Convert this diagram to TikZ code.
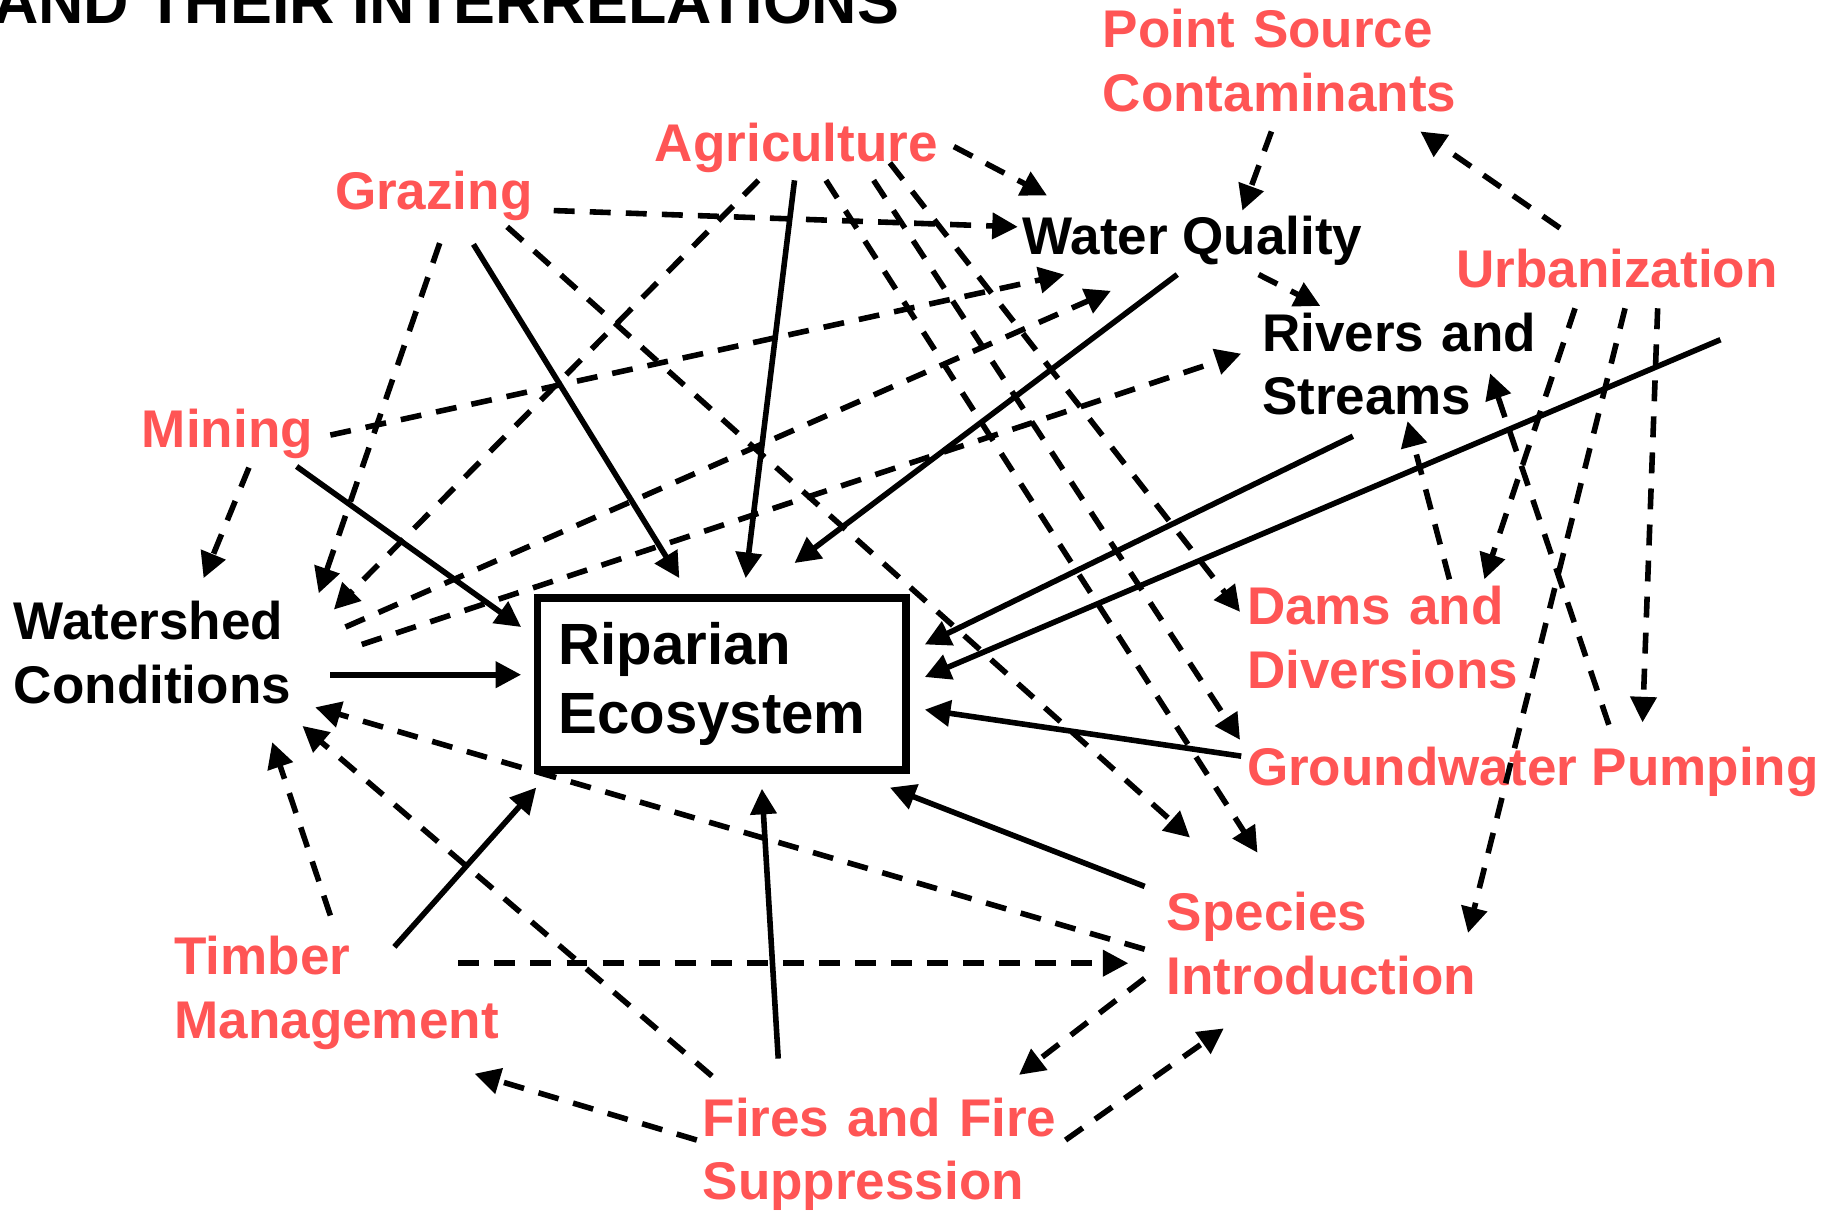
\documentclass[tikz,border=0pt]{standalone}
\usepackage{fontspec}
\setmainfont{Liberation Sans}
\usetikzlibrary{arrows.meta,calc}
\definecolor{lred}{RGB}{255,85,85}
\begin{document}
\begin{tikzpicture}[x=0.5pt,y=-0.5pt,
  lbl/.style={inner sep=0pt, outer sep=0pt, anchor=base west, align=left,
    font=\fontsize{22.8pt}{27.25pt}\selectfont\bfseries},
  hot/.style={text=lred},
  tw/.style={text width=#1},
  eff/.style={line width=2.4pt, -{Triangle[length=11pt,width=11pt]}},
  dep/.style={eff, dash pattern=on 9pt off 6.5pt}]
\useasboundingbox (0,0) rectangle (1568,1041);
\clip (0,0) rectangle (1568,1041);
\fill[white] (0,0) rectangle (1568,1041);

% labels
\node[lbl, font=\fontsize{27pt}{30pt}\selectfont\bfseries] (title) at (-6,20) {AND THEIR INTERRELATIONS};
\node[lbl,hot,tw=170pt] (psc) at (948,41) {Point Source\\Contaminants};
\node[lbl,hot] (agr) at (563,139) {Agriculture};
\node[lbl,hot] (graz) at (288,180) {Grazing};
\node[lbl] (wq) at (879,219) {Water Quality};
\node[lbl,hot] (urb) at (1252,247) {Urbanization};
\node[lbl,tw=120pt] (rs) at (1085,302) {Rivers and\\Streams};
\node[lbl,hot] (min) at (122,385) {Mining};
\node[lbl,tw=130pt] (ws) at (12,550) {Watershed\\Conditions};
\node[lbl,hot,tw=130pt] (dams) at (1072,537) {Dams and\\Diversions};
\node[lbl,hot] (gw) at (1072,675) {Groundwater Pumping};
\node[lbl,hot,tw=140pt] (sp) at (1003,800) {Species\\Introduction};
\node[lbl,hot,tw=150pt] (tim) at (150,838) {Timber\\Management};
\node[lbl,hot,tw=160pt] (fire) at (604,977) {Fires and Fire\\Suppression};
\node[draw, line width=3.25pt, outer sep=0pt, inner xsep=9pt, inner ysep=0pt,
  minimum width=158.5pt, minimum height=74pt, text width=140.5pt, align=left,
  anchor=north west, font=\fontsize{25pt}{30pt}\selectfont\bfseries] (rip) at (462,514) {Riparian\\Ecosystem};

% solid connectors into the riparian ecosystem
\draw[eff] ($(graz.base west)+(119,30)$) -- ($(rip.north west)+(122,-17)$);
\draw[eff] ($(agr.base west)+(120,16)$) -- ($(rip.north west)+(179,-17)$);
\draw[eff] ($(min.base west)+(133,16)$) -- ($(rip.north west)+(-14,25)$);
\draw[eff] ($(wq.base west)+(133,17)$) -- ($(rip.north west)+(221,-30)$);
\draw[eff] ($(ws.base west)+(272,30)$) -- ($(rip.north west)+(-14,66)$);
\draw[eff] ($(rs.base west)+(78,73)$) -- ($(rip.north west)+(333,40)$);
\draw[eff] ($(urb.base west)+(227,45)$) -- ($(rip.north west)+(333,68)$);
\draw[eff] ($(gw.base west)+(-5,-25)$) -- ($(rip.north west)+(333,96)$);
\draw[eff] ($(sp.base west)+(-19,-38)$) -- ($(rip.north west)+(303,163)$);
\draw[eff] ($(fire.base west)+(65,-67)$) -- ($(rip.north west)+(193,164)$);
\draw[eff] ($(tim.base west)+(189,-24)$) -- ($(rip.north west)+(-1,163)$);

% dashed connectors
\draw[dep] ($(agr.base west)+(257,-13)$) -- ($(wq.base west)+(21,-51)$);
\draw[dep] ($(graz.base west)+(188,1)$) -- ($(wq.base west)+(-4,-24)$);
\draw[dep] ($(psc.base west)+(145,72)$) -- ($(wq.base west)+(189,-38)$);
\draw[dep] ($(urb.base west)+(89,-51)$) -- ($(psc.base west)+(273,72)$);
\draw[dep] ($(wq.base west)+(203,17)$) -- ($(rs.base west)+(50,-39)$);
\draw[dep] ($(min.base west)+(162,-11)$) -- ($(wq.base west)+(36,17)$);
\draw[dep] ($(ws.base west)+(285,-11)$) -- ($(wq.base west)+(76,31)$);
\draw[dep] ($(ws.base west)+(299,4)$) -- ($(rs.base west)+(-18,2)$);
\draw[dep] ($(graz.base west)+(90,29)$) -- ($(ws.base west)+(262,-40)$);
\draw[dep] ($(agr.base west)+(89,16)$) -- ($(ws.base west)+(275,-26)$);
\draw[dep] ($(min.base west)+(92,17)$) -- ($(ws.base west)+(163,-53)$);
\draw[dep] ($(graz.base west)+(148,15)$) -- ($(sp.base west)+(20,-80)$);
\draw[dep] ($(agr.base west)+(147,16)$) -- ($(sp.base west)+(78,-67)$);
\draw[dep] ($(agr.base west)+(188,16)$) -- ($(gw.base west)+(-6,-39)$);
\draw[dep] ($(agr.base west)+(202,1)$) -- ($(dams.base west)+(-6,-11)$);
\draw[dep] ($(urb.base west)+(102,18)$) -- ($(dams.base west)+(204,-39)$);
\draw[dep] ($(urb.base west)+(145,18)$) -- ($(sp.base west)+(259,2)$);
\draw[dep] ($(urb.base west)+(173,18)$) -- ($(gw.base west)+(340,-54)$);
\draw[dep] ($(gw.base west)+(311,-52)$) -- ($(rs.base west)+(196,19)$);
\draw[dep] ($(dams.base west)+(174,-39)$) -- ($(rs.base west)+(125,60)$);
\draw[dep] ($(sp.base west)+(-19,16)$) -- ($(ws.base west)+(259,58)$);
\draw[dep] ($(fire.base west)+(8,-52)$) -- ($(ws.base west)+(248,74)$);
\draw[dep] ($(tim.base west)+(134,-51)$) -- ($(ws.base west)+(222,88)$);
\draw[dep] ($(tim.base west)+(244,-10)$) -- ($(sp.base west)+(-33,28)$);
\draw[dep] ($(sp.base west)+(-19,41)$) -- ($(fire.base west)+(272,-53)$);
\draw[dep] ($(fire.base west)+(312,3)$) -- ($(sp.base west)+(49,84)$);
\draw[dep] ($(fire.base west)+(-5,3)$) -- ($(tim.base west)+(258,85)$);
\end{tikzpicture}
\end{document}
